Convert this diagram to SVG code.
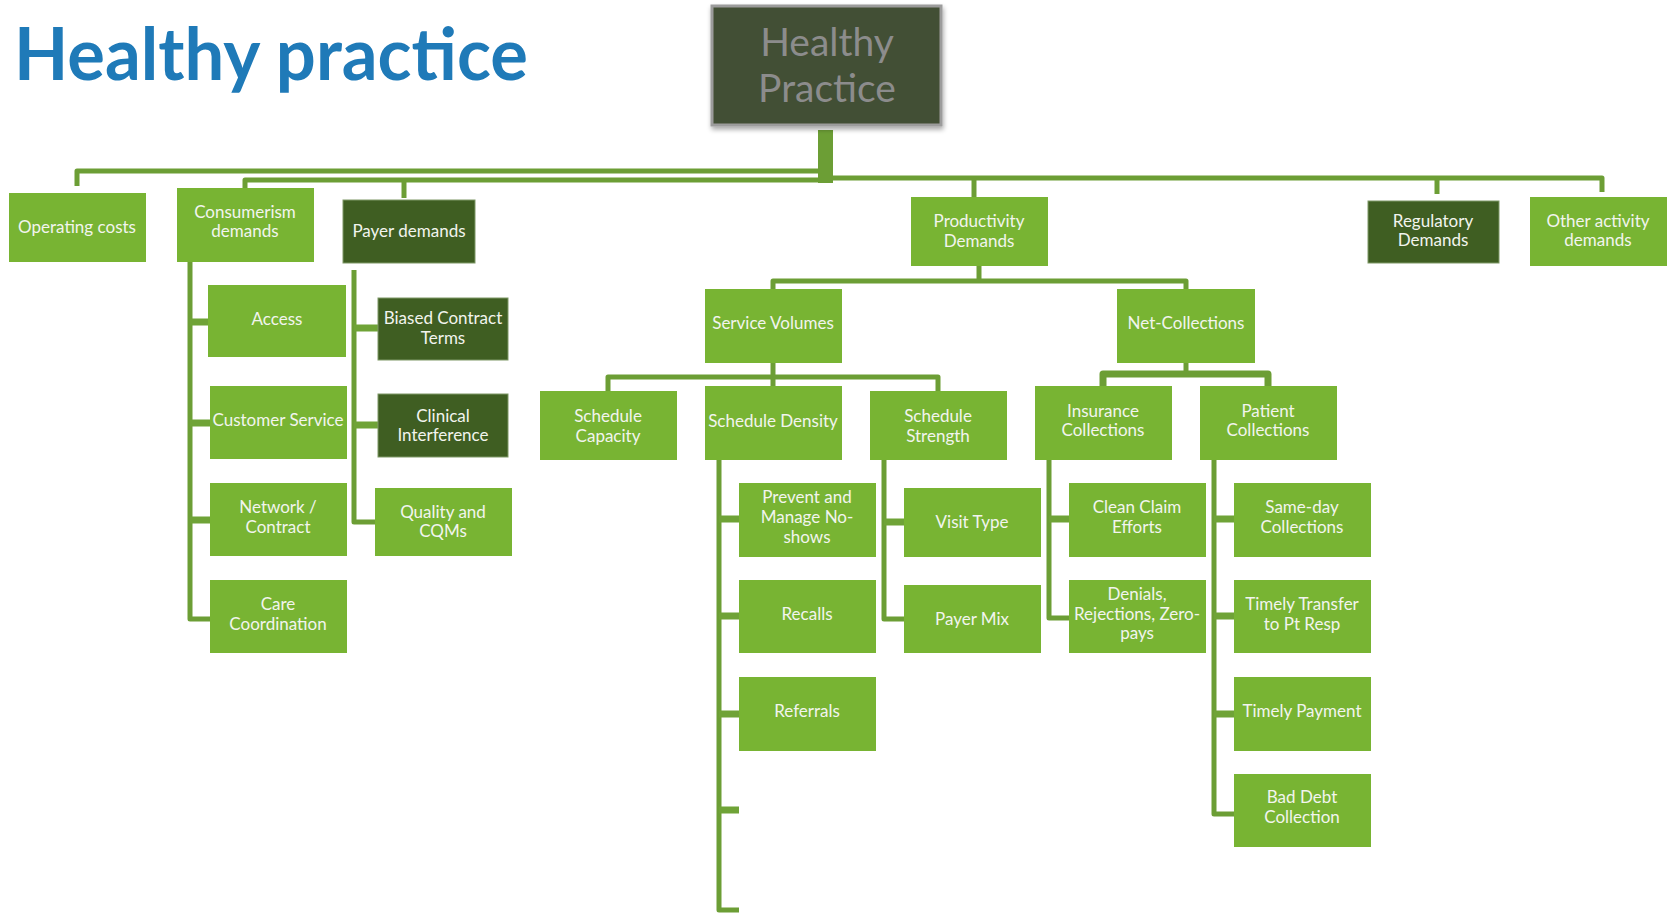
<svg xmlns="http://www.w3.org/2000/svg" width="1671" height="913" viewBox="0 0 1671 913">
  <defs>
    <filter id="shadow" x="-10%" y="-10%" width="125%" height="130%">
      <feGaussianBlur in="SourceAlpha" stdDeviation="2.5"/>
      <feOffset dx="1" dy="3" result="b"/>
      <feComponentTransfer><feFuncA type="linear" slope="0.35"/></feComponentTransfer>
      <feMerge><feMergeNode/><feMergeNode in="SourceGraphic"/></feMerge>
    </filter>
  </defs>
  <style>
    .lg { fill: #78B433; }
    .dg { fill: #3F5E22; stroke: #7E9866; stroke-width: 1; }
    .t { font-family: Lato, "Open Sans", "Liberation Sans", sans-serif; font-size: 17px; fill: #F2F4EE; text-anchor: middle; }
    .c { fill: none; stroke: #6C9E35; stroke-width: 5; stroke-linejoin: round; stroke-linecap: butt; }
    .s { fill: none; stroke: #6FA337; stroke-width: 7; }
  </style>
  <rect width="1671" height="913" fill="#FFFFFF"/>

  <!-- page title -->
  <text x="14" y="80" font-family="Lato, 'Open Sans', 'Liberation Sans', sans-serif" font-weight="bold" font-size="72" fill="#1F7AB8" textLength="514" lengthAdjust="spacingAndGlyphs">Healthy practice</text>

  <!-- connectors -->
  <g id="connectors">
    <rect x="818" y="130" width="15" height="53" fill="#6C9E35"/>
    <path class="c" d="M77 186 V171 H822"/>
    <path class="c" d="M245 189 V180 H822"/>
    <path class="c" d="M404 180 V198"/>
    <path class="c" d="M830 178 H1602 V192"/>
    <path class="c" d="M1437 178 V194"/>
    <path class="c" d="M974 178 V197"/>
    <!-- productivity -->
    <path class="c" d="M979 266 V281"/>
    <path class="c" d="M773 289 V281 H1186 V289"/>
    <!-- service volumes -->
    <path class="c" d="M773 363 V386"/>
    <path class="c" d="M608 391 V377 H938 V391"/>
    <!-- net collections -->
    <path class="c" d="M1186 363 V374"/>
    <path class="c" d="M1103 386 V374 H1268 V386" style="stroke-width:7"/>
    <!-- consumerism -->
    <path class="c" d="M190 262 V619 H210"/>
    <path class="s" d="M190 322 H208 M190 423 H210 M190 520 H210"/>
    <!-- payer -->
    <path class="c" d="M354 270 V522 H375"/>
    <path class="s" d="M354 328 H378 M354 425 H378"/>
    <!-- schedule density -->
    <path class="c" d="M719 460 V910 H739"/>
    <path class="s" d="M719 519 H739 M719 616 H739 M719 714 H739 M719 810 H739"/>
    <!-- schedule strength -->
    <path class="c" d="M884 460 V619 H904"/>
    <path class="s" d="M884 522 H904"/>
    <!-- insurance collections -->
    <path class="c" d="M1049 460 V618 H1069"/>
    <path class="s" d="M1049 519 H1069"/>
    <!-- patient collections -->
    <path class="c" d="M1214 460 V814 H1234"/>
    <path class="s" d="M1214 519 H1234 M1214 616 H1234 M1214 714 H1234"/>
  </g>

  <!-- root -->
  <g id="root">
    <rect x="712" y="6" width="229" height="119" fill="#434F35" stroke="#9C9C9C" stroke-width="3" filter="url(#shadow)"/>
    <text x="827" y="56" font-family="Lato, 'Open Sans', sans-serif" font-size="39" fill="#8C8C8C" text-anchor="middle">Healthy</text>
    <text x="827" y="102" font-family="Lato, 'Open Sans', sans-serif" font-size="39" fill="#8C8C8C" text-anchor="middle">Practice</text>
  </g>

  <!-- first level -->
  <g id="operating-costs"><rect class="lg" x="9" y="193" width="137" height="69"/><text class="t" x="77" y="233">Operating costs</text></g>
  <g id="consumerism"><rect class="lg" x="177" y="188" width="137" height="74"/><text class="t" x="245" y="218">Consumerism</text><text class="t" x="245" y="237">demands</text></g>
  <g id="payer-demands"><rect class="dg" x="343" y="200" width="132" height="63"/><text class="t" x="409" y="237">Payer demands</text></g>
  <g id="productivity"><rect class="lg" x="911" y="197" width="137" height="69"/><text class="t" x="979" y="227">Productivity</text><text class="t" x="979" y="247">Demands</text></g>
  <g id="regulatory"><rect class="dg" x="1368" y="201" width="131" height="62"/><text class="t" x="1433" y="227">Regulatory</text><text class="t" x="1433" y="246">Demands</text></g>
  <g id="other-activity"><rect class="lg" x="1530" y="197" width="137" height="69"/><text class="t" x="1598" y="227">Other activity</text><text class="t" x="1598" y="246">demands</text></g>

  <!-- consumerism branch -->
  <g id="access"><rect class="lg" x="208" y="285" width="138" height="72"/><text class="t" x="277" y="325">Access</text></g>
  <g id="customer-service"><rect class="lg" x="210" y="386" width="137" height="73"/><text class="t" x="278" y="426">Customer Service</text></g>
  <g id="network-contract"><rect class="lg" x="210" y="483" width="137" height="73"/><text class="t" x="278" y="513">Network /</text><text class="t" x="278" y="533">Contract</text></g>
  <g id="care-coordination"><rect class="lg" x="210" y="580" width="137" height="73"/><text class="t" x="278" y="610">Care</text><text class="t" x="278" y="630">Coordination</text></g>

  <!-- payer branch -->
  <g id="biased-contract"><rect class="dg" x="378" y="298" width="130" height="62"/><text class="t" x="443" y="324">Biased Contract</text><text class="t" x="443" y="344">Terms</text></g>
  <g id="clinical-interference"><rect class="dg" x="378" y="394" width="130" height="63"/><text class="t" x="443" y="422">Clinical</text><text class="t" x="443" y="441">Interference</text></g>
  <g id="quality-cqms"><rect class="lg" x="375" y="488" width="137" height="68"/><text class="t" x="443" y="518">Quality and</text><text class="t" x="443" y="537">CQMs</text></g>

  <!-- productivity branch -->
  <g id="service-volumes"><rect class="lg" x="705" y="289" width="137" height="74"/><text class="t" x="773" y="329">Service Volumes</text></g>
  <g id="net-collections"><rect class="lg" x="1117" y="289" width="138" height="74"/><text class="t" x="1186" y="329">Net-Collections</text></g>

  <g id="schedule-capacity"><rect class="lg" x="540" y="391" width="137" height="69"/><text class="t" x="608" y="422">Schedule</text><text class="t" x="608" y="442">Capacity</text></g>
  <g id="schedule-density"><rect class="lg" x="705" y="386" width="137" height="74"/><text class="t" x="773" y="427">Schedule Density</text></g>
  <g id="schedule-strength"><rect class="lg" x="870" y="391" width="137" height="69"/><text class="t" x="938" y="422">Schedule</text><text class="t" x="938" y="442">Strength</text></g>
  <g id="insurance-collections"><rect class="lg" x="1035" y="386" width="137" height="74"/><text class="t" x="1103" y="417">Insurance</text><text class="t" x="1103" y="436">Collections</text></g>
  <g id="patient-collections"><rect class="lg" x="1200" y="386" width="137" height="74"/><text class="t" x="1268" y="417">Patient</text><text class="t" x="1268" y="436">Collections</text></g>

  <!-- schedule density branch -->
  <g id="no-shows"><rect class="lg" x="739" y="483" width="137" height="74"/><text class="t" x="807" y="503">Prevent and</text><text class="t" x="807" y="523">Manage No-</text><text class="t" x="807" y="543">shows</text></g>
  <g id="recalls"><rect class="lg" x="739" y="580" width="137" height="73"/><text class="t" x="807" y="620">Recalls</text></g>
  <g id="referrals"><rect class="lg" x="739" y="677" width="137" height="74"/><text class="t" x="807" y="717">Referrals</text></g>

  <!-- schedule strength branch -->
  <g id="visit-type"><rect class="lg" x="904" y="488" width="137" height="69"/><text class="t" x="972" y="528">Visit Type</text></g>
  <g id="payer-mix"><rect class="lg" x="904" y="585" width="137" height="68"/><text class="t" x="972" y="625">Payer Mix</text></g>

  <!-- insurance collections branch -->
  <g id="clean-claim"><rect class="lg" x="1069" y="483" width="137" height="74"/><text class="t" x="1137" y="513">Clean Claim</text><text class="t" x="1137" y="533">Efforts</text></g>
  <g id="denials"><rect class="lg" x="1069" y="580" width="137" height="73"/><text class="t" x="1137" y="600">Denials,</text><text class="t" x="1137" y="620">Rejections, Zero-</text><text class="t" x="1137" y="639">pays</text></g>

  <!-- patient collections branch -->
  <g id="same-day"><rect class="lg" x="1234" y="483" width="137" height="74"/><text class="t" x="1302" y="513">Same-day</text><text class="t" x="1302" y="533">Collections</text></g>
  <g id="timely-transfer"><rect class="lg" x="1234" y="580" width="137" height="73"/><text class="t" x="1302" y="610">Timely Transfer</text><text class="t" x="1302" y="630">to Pt Resp</text></g>
  <g id="timely-payment"><rect class="lg" x="1234" y="677" width="137" height="74"/><text class="t" x="1302" y="717">Timely Payment</text></g>
  <g id="bad-debt"><rect class="lg" x="1234" y="774" width="137" height="73"/><text class="t" x="1302" y="803">Bad Debt</text><text class="t" x="1302" y="823">Collection</text></g>
</svg>
